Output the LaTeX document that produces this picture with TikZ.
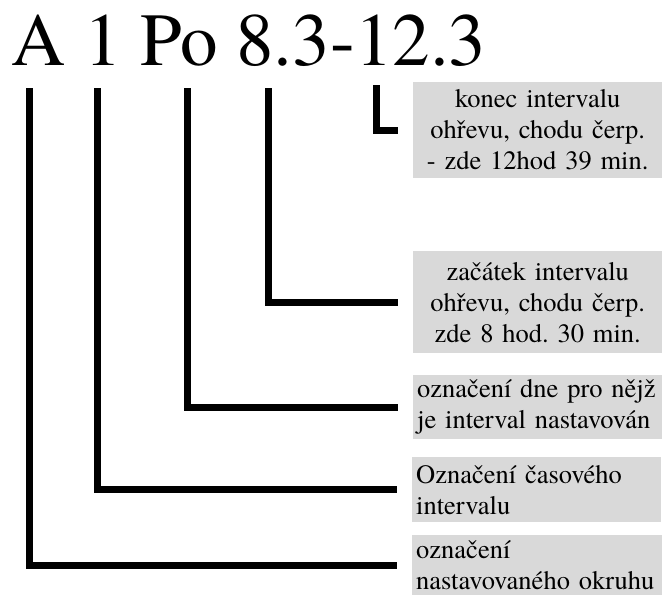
\documentclass[tikz,border=0pt]{standalone}
\usepackage{fontspec}
\setmainfont{texgyretermes}[Extension=.otf, UprightFont=*-regular, BoldFont=*-bold]
\definecolor{boxgray}{HTML}{D9D9D9}
\frenchspacing
\begin{document}
\begin{tikzpicture}[x=1pt,y=-1pt,
  gbox/.style={fill=boxgray, draw=none, anchor=north west, inner xsep=4pt, inner ysep=0pt,
    font=\fontsize{26.5}{31}\selectfont},
  conn/.style={line width=7pt, line join=miter, shorten >=15pt}]
\useasboundingbox (0,0) rectangle (663,595);
\node[anchor=base west, inner sep=0pt, font=\fontsize{75}{75}\selectfont] (title) at (11,65) {A 1 Po 8.3-12.3};

\node[gbox, minimum width=249pt, minimum height=96pt, text width=241pt, align=center] (b1) at (413,82)
  {konec intervalu\\ohřevu, chodu čerp.\\- zde 12hod 39 min.};
\node[gbox, minimum width=249pt, minimum height=102pt, text width=241pt, align=center] (b2) at (413,251)
  {začátek intervalu\\ohřevu, chodu čerp.\\zde 8 hod. 30 min.};
\node[gbox, minimum width=249pt, minimum height=64pt, text width=241pt, align=left] (b3) at (413,375)
  {označení dne pro nějž\\je interval nastavován};
\node[gbox, minimum width=249pt, minimum height=65pt, text width=241pt, align=left] (b4) at (412,457)
  {Označení časového\\intervalu};
\node[gbox, minimum width=250pt, minimum height=60pt, text width=242pt, align=left] (b5) at (412,535)
  {označení\\nastavovaného okruhu};

\coordinate (cA) at (29.5,88);
\coordinate (c1) at (97.5,88);
\coordinate (cPo) at (187,88);
\coordinate (c83) at (268,88);
\coordinate (c123) at (376,85);

\draw[conn] (cA) |- (b5.west);
\draw[conn] (c1) |- (b4.west);
\draw[conn] (cPo) |- (b3.west);
\draw[conn] (c83) |- (b2.west);
\draw[conn] (c123) |- (b1.west);
\end{tikzpicture}
\end{document}
